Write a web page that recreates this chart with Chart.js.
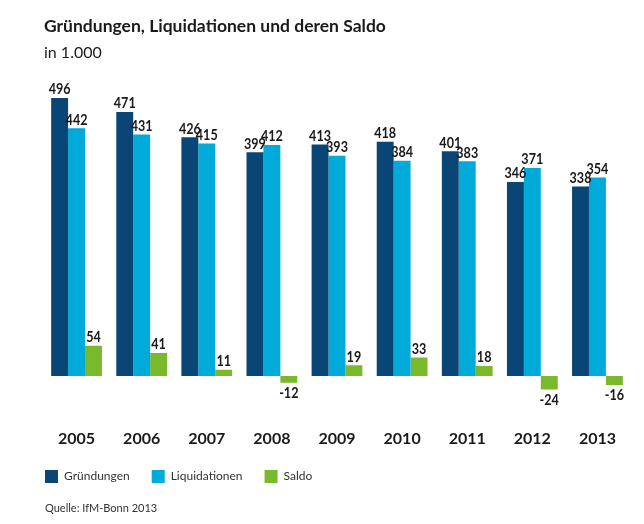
<!DOCTYPE html>
<html>
<head>
<meta charset="utf-8">
<script src="https://cdn.jsdelivr.net/npm/chart.js@4.4.0/dist/chart.umd.min.js"></script>
<style>
  html, body { margin: 0; padding: 0; background: #fff; }
  #wrap { width: 644px; height: 524px; }
</style>
</head>
<body>
<div id="wrap"><canvas id="barChart" width="644" height="524"></canvas></div>
<script>
const jahre = ['2005', '2006', '2007', '2008', '2009', '2010', '2011', '2012', '2013'];
const gruendungen = [496, 471, 426, 399, 413, 418, 401, 346, 338];
const liquidationen = [442, 431, 415, 412, 393, 384, 383, 371, 354];
const saldo = [54, 41, 11, -12, 19, 33, 18, -24, -16];

const FONT = 'Lato, "Open Sans", sans-serif';

// Werte über bzw. unter den Balken (leicht schmal gestellt)
const wertLabels = {
  id: 'wertLabels',
  afterDatasetsDraw(chart) {
    const ctx = chart.ctx;
    const sx = 0.84;
    ctx.save();
    ctx.font = 'bold 15px ' + FONT;
    ctx.fillStyle = '#1a1a1a';
    ctx.textAlign = 'center';
    chart.data.datasets.forEach((ds, i) => {
      chart.getDatasetMeta(i).data.forEach((bar, j) => {
        const v = ds.data[j];
        ctx.save();
        ctx.scale(sx, 1);
        if (v >= 0) {
          ctx.textBaseline = 'bottom';
          ctx.fillText(v, bar.x / sx, bar.y - 1);
        } else {
          ctx.textBaseline = 'top';
          ctx.fillText(v, bar.x / sx, bar.y + 3);
        }
        ctx.restore();
      });
    });
    ctx.restore();
  }
};

// Legende bündig mit dem Titel
const legendeLinks = {
  id: 'legendeLinks',
  afterLayout(chart) {
    chart.legend.left = 45 - chart.options.plugins.legend.labels.padding;
  }
};

const quelle = {
  id: 'quelle',
  afterDraw(chart) {
    const ctx = chart.ctx;
    ctx.save();
    ctx.font = '11px ' + FONT;
    ctx.fillStyle = '#333';
    ctx.textAlign = 'left';
    ctx.textBaseline = 'middle';
    ctx.fillText('Quelle: IfM-Bonn 2013', 45, 508);
    ctx.restore();
  }
};

new Chart(document.getElementById('barChart').getContext('2d'), {
  type: 'bar',
  data: {
    labels: jahre,
    datasets: [
      { label: 'Gründungen', data: gruendungen, backgroundColor: '#0a4675' },
      { label: 'Liquidationen', data: liquidationen, backgroundColor: '#00aad9' },
      { label: 'Saldo', data: saldo, backgroundColor: '#7ab92c' }
    ]
  },
  options: {
    responsive: false,
    animation: false,
    maintainAspectRatio: false,
    layout: { padding: { left: 44, right: 14, top: 12, bottom: 31 } },
    datasets: { bar: { categoryPercentage: 0.78, barPercentage: 1.0 } },
    scales: {
      x: {
        grid: { display: false },
        border: { display: false },
        ticks: { color: '#1a1a1a', font: { family: FONT, size: 16, weight: 'bold' }, padding: 0 }
      },
      y: {
        display: false,
        min: -80,
        max: 542
      }
    },
    plugins: {
      title: {
        display: true,
        text: 'Gründungen, Liquidationen und deren Saldo',
        align: 'start',
        color: '#1a1a1a',
        font: { family: FONT, size: 17.5, weight: 'bold' },
        padding: { top: 4, bottom: 2 }
      },
      subtitle: {
        display: true,
        text: 'in 1.000',
        align: 'start',
        color: '#1a1a1a',
        font: { family: FONT, size: 16 },
        padding: { top: 4, bottom: 10 }
      },
      legend: {
        position: 'bottom',
        align: 'start',
        labels: {
          boxWidth: 13,
          boxHeight: 13,
          padding: 22,
          color: '#333',
          font: { family: FONT, size: 12 }
        }
      },
      tooltip: { enabled: false }
    }
  },
  plugins: [wertLabels, legendeLinks, quelle]
});
</script>
</body>
</html>
